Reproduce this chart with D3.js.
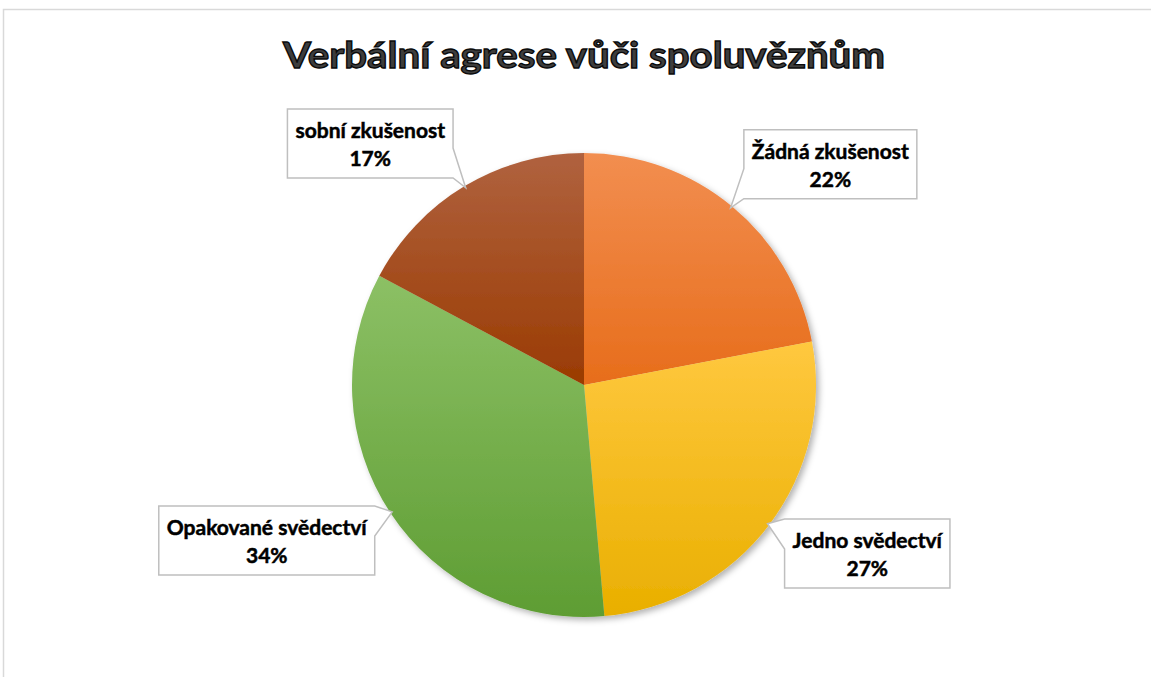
<!DOCTYPE html>
<html>
<head>
<meta charset="utf-8">
<script src="https://cdn.jsdelivr.net/npm/d3@7"></script>
<style>
  body { margin: 0; background: #fff; }
  svg { display: block; }
</style>
</head>
<body>
<div id="chart"></div>
<script>
// data
const categories = ["Žádná zkušenost", "Jedno svědectví", "Opakované svědectví", "sobní zkušenost"];
const values = [22, 26.6, 34.2, 17.2];
const topColors = ["#F28E50", "#FFC83F", "#8CC065", "#B0623F"];
const bottomColors = ["#E76D1B", "#E9AF00", "#5E9D33", "#9A3B02"];
// how far each callout box sits from its spot on the outer ring
const labelNudge = [[36, 34], [20, -30], [-42, -26], [-44, 42]];

const w = 1151, h = 677;
const cx = 584, cy = 385, r = 232;
const total = d3.sum(values);

const svg = d3.select("#chart").append("svg")
  .attr("width", w)
  .attr("height", h);

const defs = svg.append("defs");

defs.append("filter")
  .attr("id", "shadow")
  .attr("x", "-10%").attr("y", "-10%")
  .attr("width", "125%").attr("height", "125%")
  .append("feDropShadow")
  .attr("dx", 3).attr("dy", 3)
  .attr("stdDeviation", 3)
  .attr("flood-color", "#000")
  .attr("flood-opacity", 0.3);

categories.forEach((c, i) => {
  const g = defs.append("linearGradient")
    .attr("id", "grad" + i)
    .attr("x1", 0).attr("y1", 0)
    .attr("x2", 0).attr("y2", 1);
  g.append("stop").attr("offset", "0%").attr("stop-color", topColors[i]);
  g.append("stop").attr("offset", "100%").attr("stop-color", bottomColors[i]);
});

// chart area outline
svg.append("rect")
  .attr("x", 3.5).attr("y", 9.5)
  .attr("width", 1300).attr("height", 800)
  .attr("fill", "none")
  .attr("stroke", "#d9d9d9")
  .attr("stroke-width", 1.5);

// title
svg.append("text")
  .attr("x", cx)
  .attr("y", 68)
  .attr("text-anchor", "middle")
  .attr("textLength", 602)
  .attr("lengthAdjust", "spacingAndGlyphs")
  .style("font-family", "Lato, 'Open Sans', sans-serif")
  .style("font-weight", 700)
  .style("font-size", "36px")
  .attr("fill", "#3d3d3d")
  .attr("stroke", "#0a0a0a")
  .attr("stroke-width", 1.3)
  .text("Verbální agrese vůči spoluvězňům");

const pie = d3.pie().sort(null).value(d => d);
const arcs = pie(values);

const arc = d3.arc().innerRadius(0).outerRadius(r);
const ring = d3.arc().innerRadius(330).outerRadius(330);
const edge = d3.arc().innerRadius(r - 2).outerRadius(r - 2);

const pieG = svg.append("g")
  .attr("transform", `translate(${cx},${cy})`)
  .attr("filter", "url(#shadow)");

pieG.selectAll("path")
  .data(arcs)
  .enter()
  .append("path")
  .attr("d", arc)
  .attr("fill", (d, i) => `url(#grad${i})`);

// callout shape: box plus a wedge pointing at the slice
function callout(x0, y0, x1, y1, tx, ty) {
  const bw = 30;
  const clamp = (v, a, b) => Math.max(a, Math.min(b, v));
  const outX = tx < x0 ? x0 - tx : tx > x1 ? tx - x1 : 0;
  const outY = ty < y0 ? y0 - ty : ty > y1 ? ty - y1 : 0;
  let top = "", right = "", bottom = "", left = "";
  if (outY >= outX) {
    const c = clamp(tx, x0 + bw / 2, x1 - bw / 2);
    if (ty > y1) bottom = `L${c + bw / 2},${y1}L${tx},${ty}L${c - bw / 2},${y1}`;
    else top = `L${c - bw / 2},${y0}L${tx},${ty}L${c + bw / 2},${y0}`;
  } else {
    const c = clamp(ty, y0 + bw / 2, y1 - bw / 2);
    if (tx > x1) right = `L${x1},${c - bw / 2}L${tx},${ty}L${x1},${c + bw / 2}`;
    else left = `L${x0},${c + bw / 2}L${tx},${ty}L${x0},${c - bw / 2}`;
  }
  return `M${x0},${y0}${top}L${x1},${y0}${right}L${x1},${y1}${bottom}L${x0},${y1}${left}Z`;
}

const labelG = svg.append("g");

function addLine(g, x, y, txt) {
  return g.append("text")
    .attr("x", x).attr("y", y)
    .attr("dy", "0.35em")
    .attr("text-anchor", "middle")
    .style("font-family", "Lato, 'Open Sans', sans-serif")
    .style("font-weight", 700)
    .style("font-size", "21px")
    .attr("fill", "#000")
    .attr("stroke", "#000")
    .attr("stroke-width", 0.5)
    .text(txt);
}

arcs.forEach((d, i) => {
  const [mx, my] = ring.centroid(d);
  const [ex, ey] = edge.centroid(d);
  const bx = cx + mx + labelNudge[i][0];
  const by = cy + my + labelNudge[i][1];

  const g = labelG.append("g");
  const box = g.append("path");
  const t1 = addLine(g, bx, by - 13, categories[i]);
  addLine(g, bx, by + 15, Math.round(d.value / total * 100) + "%");

  const tw = t1.node().getComputedTextLength();
  const x0 = bx - tw / 2 - 8, x1 = bx + tw / 2 + 8;
  const y0 = by - 35, y1 = by + 34;
  box.attr("d", callout(x0, y0, x1, y1, cx + ex, cy + ey))
    .attr("fill", "#fff")
    .attr("stroke", "#bfbfbf")
    .attr("stroke-width", 1.5);
});
</script>
</body>
</html>
